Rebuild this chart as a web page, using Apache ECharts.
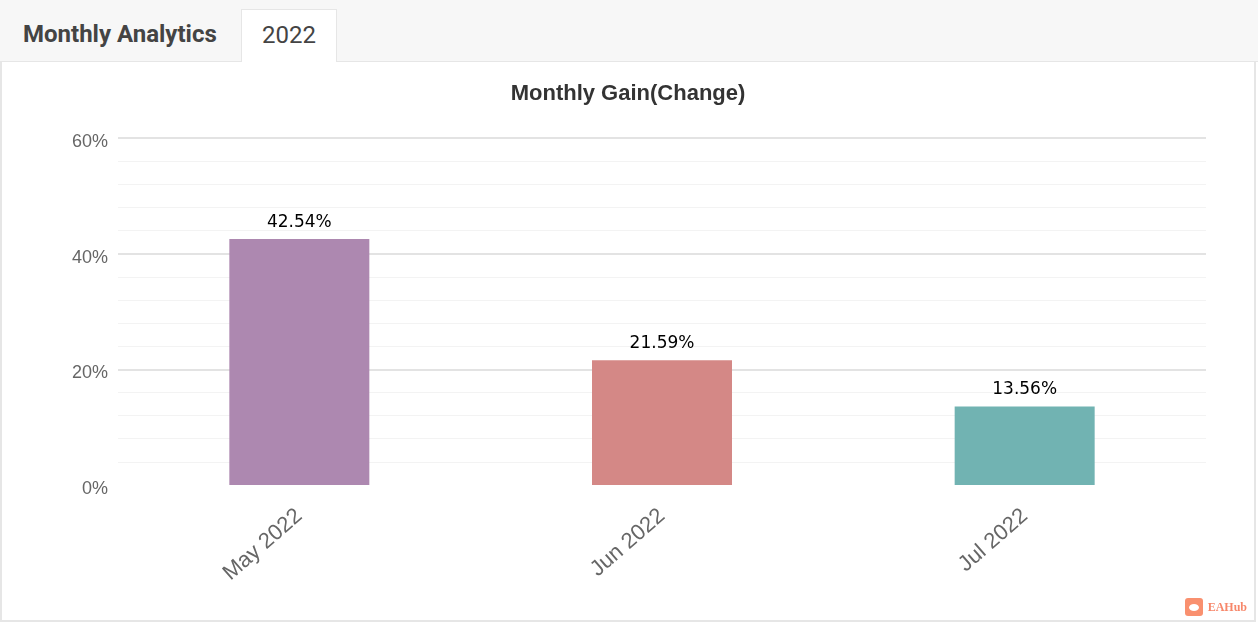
<!DOCTYPE html>
<html>
<head>
<meta charset="utf-8">
<script src="https://cdn.jsdelivr.net/npm/echarts@6/dist/echarts.min.js"></script>
<style>
    html, body { margin: 0; padding: 0; background: #fff; }
    #wrap { position: relative; width: 1258px; height: 624px; overflow: hidden; font-family: Roboto, "Helvetica Neue", Arial, sans-serif; }
    #head { position: absolute; left: 0; top: 0; width: 1258px; height: 61px; background: #f7f7f7; border-bottom: 1px solid #e6e6e6; }
    #head .name { position: absolute; left: 23px; top: 20px; font-size: 24px; font-weight: bold; color: #444; }
    #head .tab { position: absolute; left: 241px; top: 9px; width: 96px; height: 53px; background: #fff; border: 1px solid #e6e6e6; border-bottom: none; box-sizing: border-box; text-align: center; font-size: 24px; color: #444; line-height: 50px; }
    #box { position: absolute; left: 0; top: 62px; width: 1252px; height: 558px; border-left: 2px solid #e6e6e6; border-right: 2px solid #e6e6e6; border-bottom: 2px solid #e6e6e6; }
    #chart_01 { position: absolute; left: 0; top: 0; width: 1252px; height: 558px; }
    #mark { position: absolute; right: 7px; bottom: 3px; font-family: "Liberation Serif", "Times New Roman", serif; font-size: 12px; font-weight: bold; color: #f7876a; line-height: 18px; }
    #mark i { position: relative; display: inline-block; width: 18px; height: 18px; background: #f9906f; border-radius: 3px; vertical-align: middle; margin-right: 5px; top: -1px; }
    #mark i:after { content: ''; position: absolute; left: 4px; top: 6px; width: 10px; height: 7px; background: #fff; border-radius: 50%; }
</style>
</head>
<body>
<div id="wrap">
    <div id="head">
        <div class="name">Monthly Analytics</div>
        <div class="tab">2022</div>
    </div>
    <div id="box">
        <div id="chart_01"></div>
        <div id="mark"><i></i>EAHub</div>
    </div>
</div>
<script>
    /*数据*/
    var months = ['May 2022', 'Jun 2022', 'Jul 2022'];
    var gains = [42.54, 21.59, 13.56];
    var barColors = ['#ad88b0', '#d48886', '#71b3b2'];

    var mychart_01 = echarts.init(document.getElementById('chart_01'));
    mychart_01.setOption({
        animation: false,
        title: {
            text: 'Monthly Gain(Change)',
            left: 'center',
            top: 16,
            textStyle: {
                fontFamily: 'Liberation Sans, Arial, sans-serif',
                fontWeight: 'bold',
                fontSize: 22,
                color: '#333'
            }
        },
        grid: {
            left: 116,
            right: 48,
            top: 76,
            bottom: 135
        },
        xAxis: {
            type: 'category',
            data: months,
            axisLine: { show: false },
            axisTick: { show: false },
            axisLabel: {
                rotate: 41,
                margin: 28,
                fontSize: 22,
                fontFamily: 'Liberation Sans, Arial, sans-serif',
                color: '#666'
            }
        },
        yAxis: {
            type: 'value',
            min: 0,
            max: 60,
            interval: 20,
            axisLabel: {
                formatter: '{value}%',
                fontSize: 18,
                margin: 10,
                verticalAlign: 'top',
                lineHeight: 8,
                fontFamily: 'Liberation Sans, Arial, sans-serif',
                color: '#666'
            },
            splitLine: { showMinLine: false, lineStyle: { color: '#e3e3e3', width: 2 } },
            minorTick: { show: false, splitNumber: 5 },
            minorSplitLine: { show: true, lineStyle: { color: '#f3f3f3', width: 1 } }
        },
        series: [
            {
                type: 'bar',
                barWidth: 140,
                data: gains.map(function (v, i) {
                    return { value: v, itemStyle: { color: barColors[i] } };
                }),
                label: {
                    show: true,
                    position: 'top',
                    distance: 8,
                    formatter: '{c}%',
                    fontFamily: 'DejaVu Sans, Verdana, sans-serif',
                    fontSize: 17,
                    color: '#000'
                }
            }
        ]
    });
</script>
</body>
</html>
